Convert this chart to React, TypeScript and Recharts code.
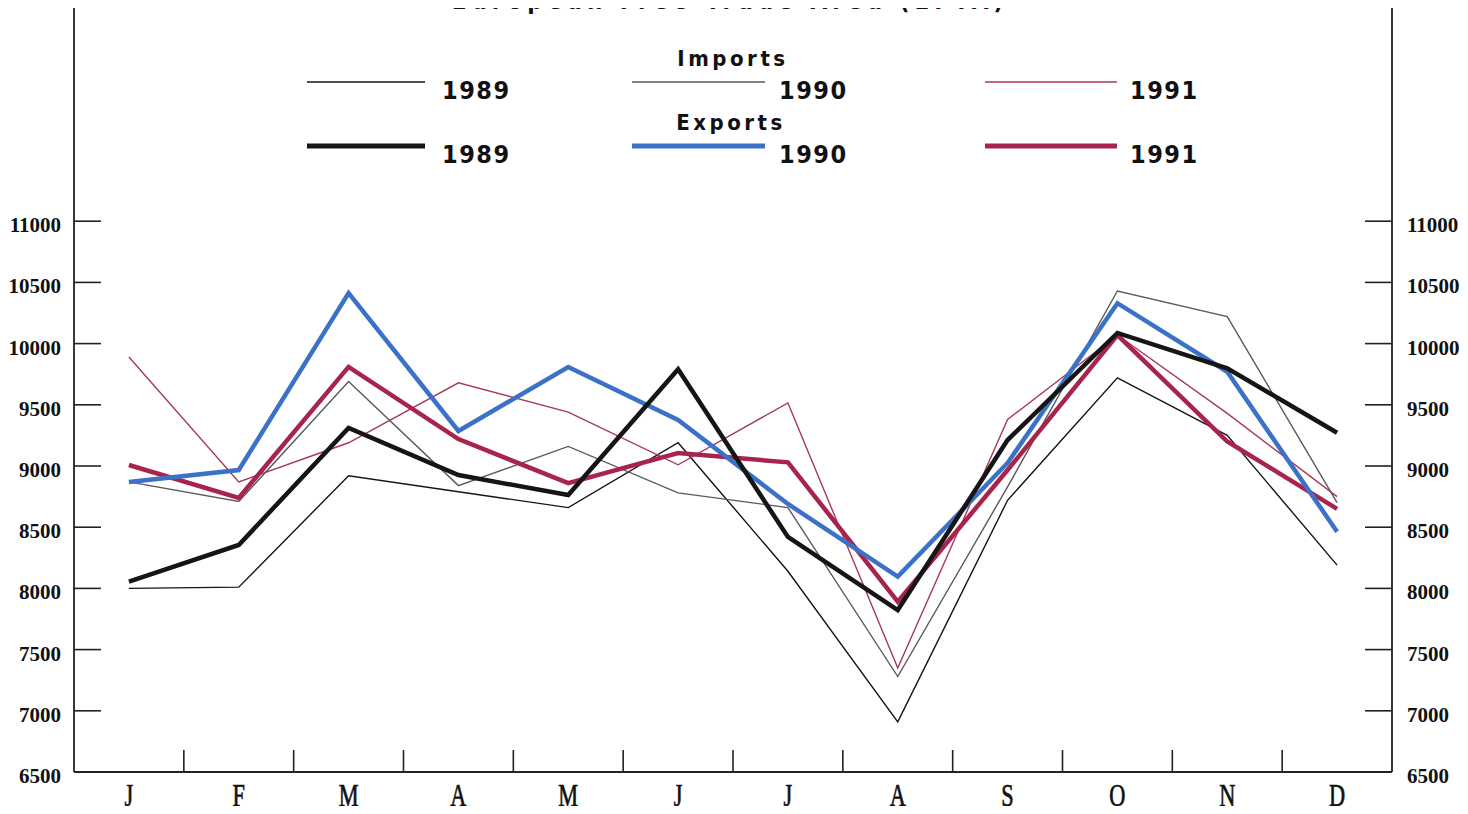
import React from 'react';
import { LineChart, Line, XAxis, YAxis } from 'recharts';

const months = ['J', 'F', 'M', 'A', 'M', 'J', 'J', 'A', 'S', 'O', 'N', 'D'];
const yTicks = [6500, 7000, 7500, 8000, 8500, 9000, 9500, 10000, 10500, 11000];

const imp1989 = [8000, 8010, 8920, 8790, 8660, 9190, 8140, 6910, 8720, 9720, 9250, 8190];
const imp1990 = [8870, 8710, 9690, 8840, 9160, 8780, 8660, 7280, 8830, 10430, 10220, 8700];
const imp1991 = [9890, 8870, 9190, 9680, 9440, 9010, 9515, 7350, 9380, 10070, 9430, 8750];
const exp1989 = [8055, 8355, 9310, 8926, 8763, 9790, 8420, 7823, 9212, 10087, 9798, 9272];
const exp1990 = [8870, 8967, 10413, 9286, 9809, 9376, 8690, 8096, 9025, 10330, 9770, 8463];
const exp1991 = [9008, 8740, 9810, 9220, 8860, 9106, 9030, 7891, 8967, 10070, 9200, 8650];

const data = months.map((m, i) => ({
  month: m,
  imp1989: imp1989[i],
  imp1990: imp1990[i],
  imp1991: imp1991[i],
  exp1989: exp1989[i],
  exp1990: exp1990[i],
  exp1991: exp1991[i],
}));

const CHART_W = 1468;
const CHART_H = 814;
const Y_LEFT_W = 74;
const Y_RIGHT_W = 76;
const PLOT_W = CHART_W - Y_LEFT_W - Y_RIGHT_W;
const HALF_BAND = PLOT_W / months.length / 2;

const C_BLACK = '#151515';
const C_GRAY = '#5a5a5a';
const C_RED_THIN = '#a8385a';
const C_BLUE = '#3b72c8';
const C_RED = '#a8244c';
const AXIS = '#222';

const numFont = '"Liberation Serif", "DejaVu Serif", serif';
const legFont = '"DejaVu Sans Condensed", "DejaVu Sans", Arial, sans-serif';

const LeftTick = (props: any) => {
  const { x, y, payload } = props;
  return (
    <g>
      <line x1={x} x2={x + 27} y1={y} y2={y} stroke={AXIS} strokeWidth={1.6} />
      <text x={x - 13} y={y + 11} textAnchor="end" fontFamily={numFont} fontWeight="bold" fontSize={21} fill="#111">
        {payload.value}
      </text>
    </g>
  );
};

const RightTick = (props: any) => {
  const { x, y, payload } = props;
  return (
    <g>
      <line x1={x - 27} x2={x} y1={y} y2={y} stroke={AXIS} strokeWidth={1.6} />
      <text x={x + 15} y={y + 11} textAnchor="start" fontFamily={numFont} fontWeight="bold" fontSize={21} fill="#111">
        {payload.value}
      </text>
    </g>
  );
};

const BottomTick = (props: any) => {
  const { x, y, payload, index } = props;
  return (
    <g>
      {index > 0 && <line x1={x - HALF_BAND} x2={x - HALF_BAND} y1={y} y2={y - 22} stroke={AXIS} strokeWidth={1.6} />}
      <g transform={`translate(${x},${y + 34}) scale(0.72,1)`}>
        <text x={0} y={0} textAnchor="middle" fontFamily={numFont} fontSize={31} fill="#111" stroke="#111" strokeWidth={0.7}>
          {payload.value}
        </text>
      </g>
    </g>
  );
};

const legendRows = [
  { label: '1989', color: C_BLACK, w: 1.4, x1: 307, x2: 425, y: 82, tx: 442 },
  { label: '1990', color: C_GRAY, w: 1.4, x1: 632, x2: 765, y: 82, tx: 779 },
  { label: '1991', color: C_RED_THIN, w: 1.4, x1: 985, x2: 1117, y: 82, tx: 1130 },
  { label: '1989', color: C_BLACK, w: 5, x1: 307, x2: 425, y: 146, tx: 442 },
  { label: '1990', color: C_BLUE, w: 5, x1: 632, x2: 765, y: 146, tx: 779 },
  { label: '1991', color: C_RED, w: 5, x1: 985, x2: 1117, y: 146, tx: 1130 },
];

export default function App() {
  return (
    <div style={{ position: 'relative', margin: '-8px', width: CHART_W, height: CHART_H, background: '#fff', overflow: 'hidden' }}>
      <LineChart width={CHART_W} height={CHART_H} data={data} margin={{ top: 7, right: 0, bottom: 0, left: 0 }}>
        <XAxis
          dataKey="month"
          height={42}
          tickLine={false}
          tickSize={0}
          tickMargin={0}
          interval={0}
          padding={{ left: HALF_BAND, right: HALF_BAND }}
          axisLine={{ stroke: AXIS, strokeWidth: 1.8 }}
          tick={<BottomTick />}
        />
        <YAxis
          yAxisId="left"
          orientation="left"
          width={Y_LEFT_W}
          domain={[6500, 12750]}
          ticks={yTicks}
          interval={0}
          tickLine={false}
          tickSize={0}
          tickMargin={0}
          axisLine={{ stroke: AXIS, strokeWidth: 1.8 }}
          tick={<LeftTick />}
          allowDataOverflow
        />
        <YAxis
          yAxisId="right"
          orientation="right"
          width={Y_RIGHT_W}
          domain={[6500, 12750]}
          ticks={yTicks}
          interval={0}
          tickLine={false}
          tickSize={0}
          tickMargin={0}
          axisLine={{ stroke: AXIS, strokeWidth: 1.8 }}
          tick={<RightTick />}
          allowDataOverflow
        />
        <Line yAxisId="left" type="linear" dataKey="imp1989" stroke={C_BLACK} strokeWidth={1.4} dot={false} isAnimationActive={false} />
        <Line yAxisId="left" type="linear" dataKey="imp1990" stroke={C_GRAY} strokeWidth={1.4} dot={false} isAnimationActive={false} />
        <Line yAxisId="left" type="linear" dataKey="imp1991" stroke={C_RED_THIN} strokeWidth={1.4} dot={false} isAnimationActive={false} />
        <Line yAxisId="left" type="linear" dataKey="exp1991" stroke={C_RED} strokeWidth={4.5} dot={false} isAnimationActive={false} />
        <Line yAxisId="left" type="linear" dataKey="exp1990" stroke={C_BLUE} strokeWidth={4.5} dot={false} isAnimationActive={false} />
        <Line yAxisId="left" type="linear" dataKey="exp1989" stroke={C_BLACK} strokeWidth={4.5} dot={false} isAnimationActive={false} />
      </LineChart>
      <svg width={CHART_W} height={CHART_H} style={{ position: 'absolute', left: 0, top: 0, pointerEvents: 'none' }}>
        <text x={730} y={9} textAnchor="middle" fontFamily={legFont} fontWeight="bold" fontSize={24} letterSpacing={5} fill="#111">
          European Free Trade Area (EFTA)
        </text>
        <text x={733} y={66} textAnchor="middle" fontFamily={legFont} fontWeight="bold" fontSize={22} letterSpacing={3.5} fill="#111">
          Imports
        </text>
        <text x={731} y={130} textAnchor="middle" fontFamily={legFont} fontWeight="bold" fontSize={22} letterSpacing={3.5} fill="#111">
          Exports
        </text>
        {legendRows.map((r, i) => (
          <g key={i}>
            <line x1={r.x1} x2={r.x2} y1={r.y} y2={r.y} stroke={r.color} strokeWidth={r.w} />
            <text x={r.tx} y={r.y + 17} fontFamily={legFont} fontWeight="bold" fontSize={25} letterSpacing={1.5} fill="#111">
              {r.label}
            </text>
          </g>
        ))}
      </svg>
    </div>
  );
}
